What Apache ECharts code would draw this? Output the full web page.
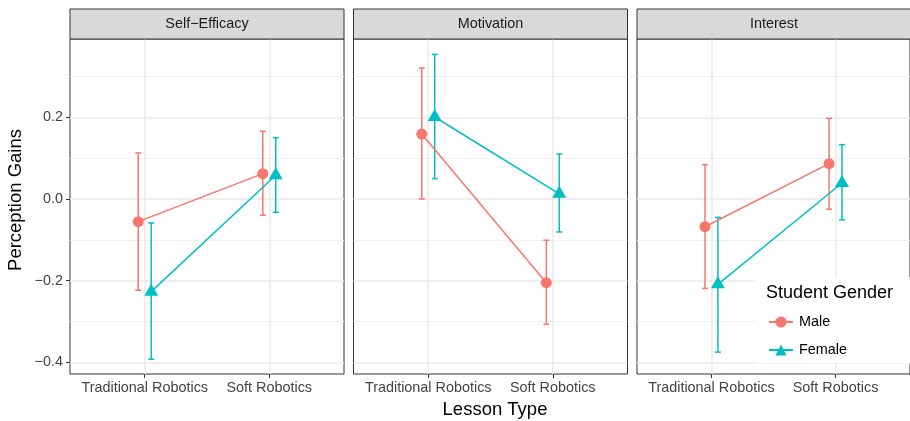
<!DOCTYPE html>
<html><head><meta charset="utf-8">
<script src="https://cdn.jsdelivr.net/npm/echarts@6/dist/echarts.min.js"></script>
<style>html,body{margin:0;padding:0;background:#fff}#c{width:910px;height:421px}</style>
</head><body><div id="c"></div><script>
// ---- data ----
const facets = ['Self\u2212Efficacy', 'Motivation', 'Interest'];
const categories = ['Traditional Robotics', 'Soft Robotics'];
const genders = ['Male', 'Female'];
const yTicks = [-0.4, -0.2, 0.0, 0.2];
const yMinorTicks = [-0.3, -0.1, 0.1, 0.3];
// per facet: [Traditional, Soft]
const maleMean   = [[-0.0555, 0.062], [0.159, -0.205], [-0.068, 0.0864]];
const maleLow    = [[-0.2235, -0.040], [0.000, -0.307], [-0.219, -0.025]];
const maleHigh   = [[0.1126, 0.1657], [0.3207, -0.101], [0.084, 0.1975]];
const femaleMean = [[-0.227, 0.058], [0.2007, 0.0127], [-0.209, 0.039]];
const femaleLow  = [[-0.3925, -0.0326], [0.0497, -0.0808], [-0.375, -0.051]];
const femaleHigh = [[-0.0588, 0.150], [0.354, 0.110], [-0.045, 0.133]];

// ---- style / layout ----
const COLORS = { Male: '#F8766D', Female: '#00BFC4' };
const FONT = '"Liberation Sans", Arial, Helvetica, sans-serif';
const DODGE = 0.052, CAP = 0.024;
const Y_MIN = -0.4286, Y_MAX = 0.3917;
const panelLeft = [70, 353.5, 637], panelW = 274, panelTop = 39, panelH = 335;
const stripTop = 9, stripH = 30;

const chart = echarts.init(document.getElementById('c'), null, { renderer: 'canvas' });

const grids = [], xAxes = [], yAxes = [], series = [], graphics = [];
const fmtY = v => (v < 0 ? '\u2212' : '') + Math.abs(v).toFixed(1);

facets.forEach((f, i) => {
  grids.push({ left: panelLeft[i], top: panelTop, width: panelW, height: panelH,
    show: true, borderColor: '#333333', borderWidth: 1, backgroundColor: '#fff' });
  xAxes.push({ type: 'value', gridIndex: i, min: 0.4, max: 2.6, position: 'bottom',
    axisLine: { show: false, onZero: false },
    axisTick: { show: true, customValues: [1, 2], length: 4, lineStyle: { color: '#333333', width: 1 } },
    axisLabel: { show: true, customValues: [1, 2], margin: 7, color: '#444444', fontSize: 14.4, fontFamily: FONT,
      formatter: v => categories[Math.round(v) - 1] || '' },
    splitLine: { show: true, lineStyle: { color: '#EBEBEB', width: 1.6 } } });
  // major y
  yAxes.push({ type: 'value', gridIndex: i, min: Y_MIN, max: Y_MAX, position: 'left',
    axisLine: { show: false, onZero: false },
    axisTick: { show: i === 0, customValues: yTicks, length: 4, lineStyle: { color: '#333333', width: 1 } },
    axisLabel: { show: i === 0, customValues: yTicks, margin: 7, color: '#444444', fontSize: 14.4, fontFamily: FONT, formatter: fmtY },
    splitLine: { show: true, lineStyle: { color: '#EBEBEB', width: 1.6 } } });
  // minor y (grid lines only)
  yAxes.push({ type: 'value', gridIndex: i, min: Y_MIN, max: Y_MAX, position: 'right',
    axisLine: { show: false, onZero: false }, axisTick: { show: false, customValues: yMinorTicks },
    axisLabel: { show: false }, splitLine: { show: true, lineStyle: { color: '#F0F0F0', width: 1 } } });

  // strip
  graphics.push({ type: 'rect', z: 5, shape: { x: panelLeft[i], y: stripTop, width: panelW, height: stripH },
    style: { fill: '#D9D9D9', stroke: '#333333', lineWidth: 1 } });
  graphics.push({ type: 'text', z: 6, x: panelLeft[i] + panelW / 2, y: stripTop + stripH / 2,
    style: { text: f, fill: '#1A1A1A', font: '14.4px ' + FONT, align: 'center', verticalAlign: 'middle' } });

  const sets = [
    { g: 'Male', mean: maleMean[i], lo: maleLow[i], hi: maleHigh[i], off: -DODGE, sym: 'circle', size: 11, so: [0, 0] },
    { g: 'Female', mean: femaleMean[i], lo: femaleLow[i], hi: femaleHigh[i], off: DODGE, sym: 'triangle', size: [14, 12], so: [0, -2] }
  ];
  sets.forEach(s => {
    const col = COLORS[s.g];
    series.push({
      type: 'custom', name: s.g + ' error', xAxisIndex: i, yAxisIndex: i * 2, z: 2, silent: true,
      data: categories.map((c, k) => [k + 1 + s.off, s.lo[k], s.hi[k]]),
      renderItem: (params, api) => {
        const x = api.value(0), lo = api.value(1), hi = api.value(2);
        const a = api.coord([x, lo]), b = api.coord([x, hi]);
        const la = api.coord([x - CAP, lo]), ra = api.coord([x + CAP, lo]);
        const lb = api.coord([x - CAP, hi]), rb = api.coord([x + CAP, hi]);
        const st = { stroke: col, lineWidth: 1.5 };
        return { type: 'group', children: [
          { type: 'line', shape: { x1: a[0], y1: a[1], x2: b[0], y2: b[1] }, style: st },
          { type: 'line', shape: { x1: la[0], y1: la[1], x2: ra[0], y2: ra[1] }, style: st },
          { type: 'line', shape: { x1: lb[0], y1: lb[1], x2: rb[0], y2: rb[1] }, style: st }
        ] };
      }
    });
    series.push({
      type: 'line', name: s.g, xAxisIndex: i, yAxisIndex: i * 2, z: 3, silent: true,
      data: categories.map((c, k) => [k + 1 + s.off, s.mean[k]]),
      symbol: s.sym, symbolSize: s.size, symbolOffset: s.so, showAllSymbol: true,
      itemStyle: { color: col, opacity: 1 }, lineStyle: { color: col, width: 1.5 },
      animation: false
    });
  });
});

// axis titles
graphics.push({ type: 'text', x: 495, y: 410,
  style: { text: 'Lesson Type', fill: '#000', font: '18.5px ' + FONT, align: 'center', verticalAlign: 'middle' } });
graphics.push({ type: 'text', x: 16, y: 200, rotation: Math.PI / 2,
  style: { text: 'Perception Gains', fill: '#000', font: '18.5px ' + FONT, align: 'center', verticalAlign: 'middle' } });
// legend box + title
graphics.push({ type: 'rect', z: 10, shape: { x: 756, y: 277, width: 160, height: 86 }, style: { fill: '#fff' } });
graphics.push({ type: 'text', z: 11, x: 766, y: 293.5,
  style: { text: 'Student Gender', fill: '#000', font: '18px ' + FONT, align: 'left', verticalAlign: 'middle' } });

chart.setOption({
  animation: false,
  grid: grids, xAxis: xAxes, yAxis: yAxes, series: series, graphic: graphics,
  legend: { data: genders, orient: 'vertical', left: 768, top: 315, padding: 0, itemWidth: 24, itemHeight: 14,
    itemGap: 14, z: 12, selectedMode: false,
    textStyle: { fontSize: 14.4, fontFamily: FONT, color: '#000', padding: [0, 0, 0, 1] } }
});
</script></body></html>
